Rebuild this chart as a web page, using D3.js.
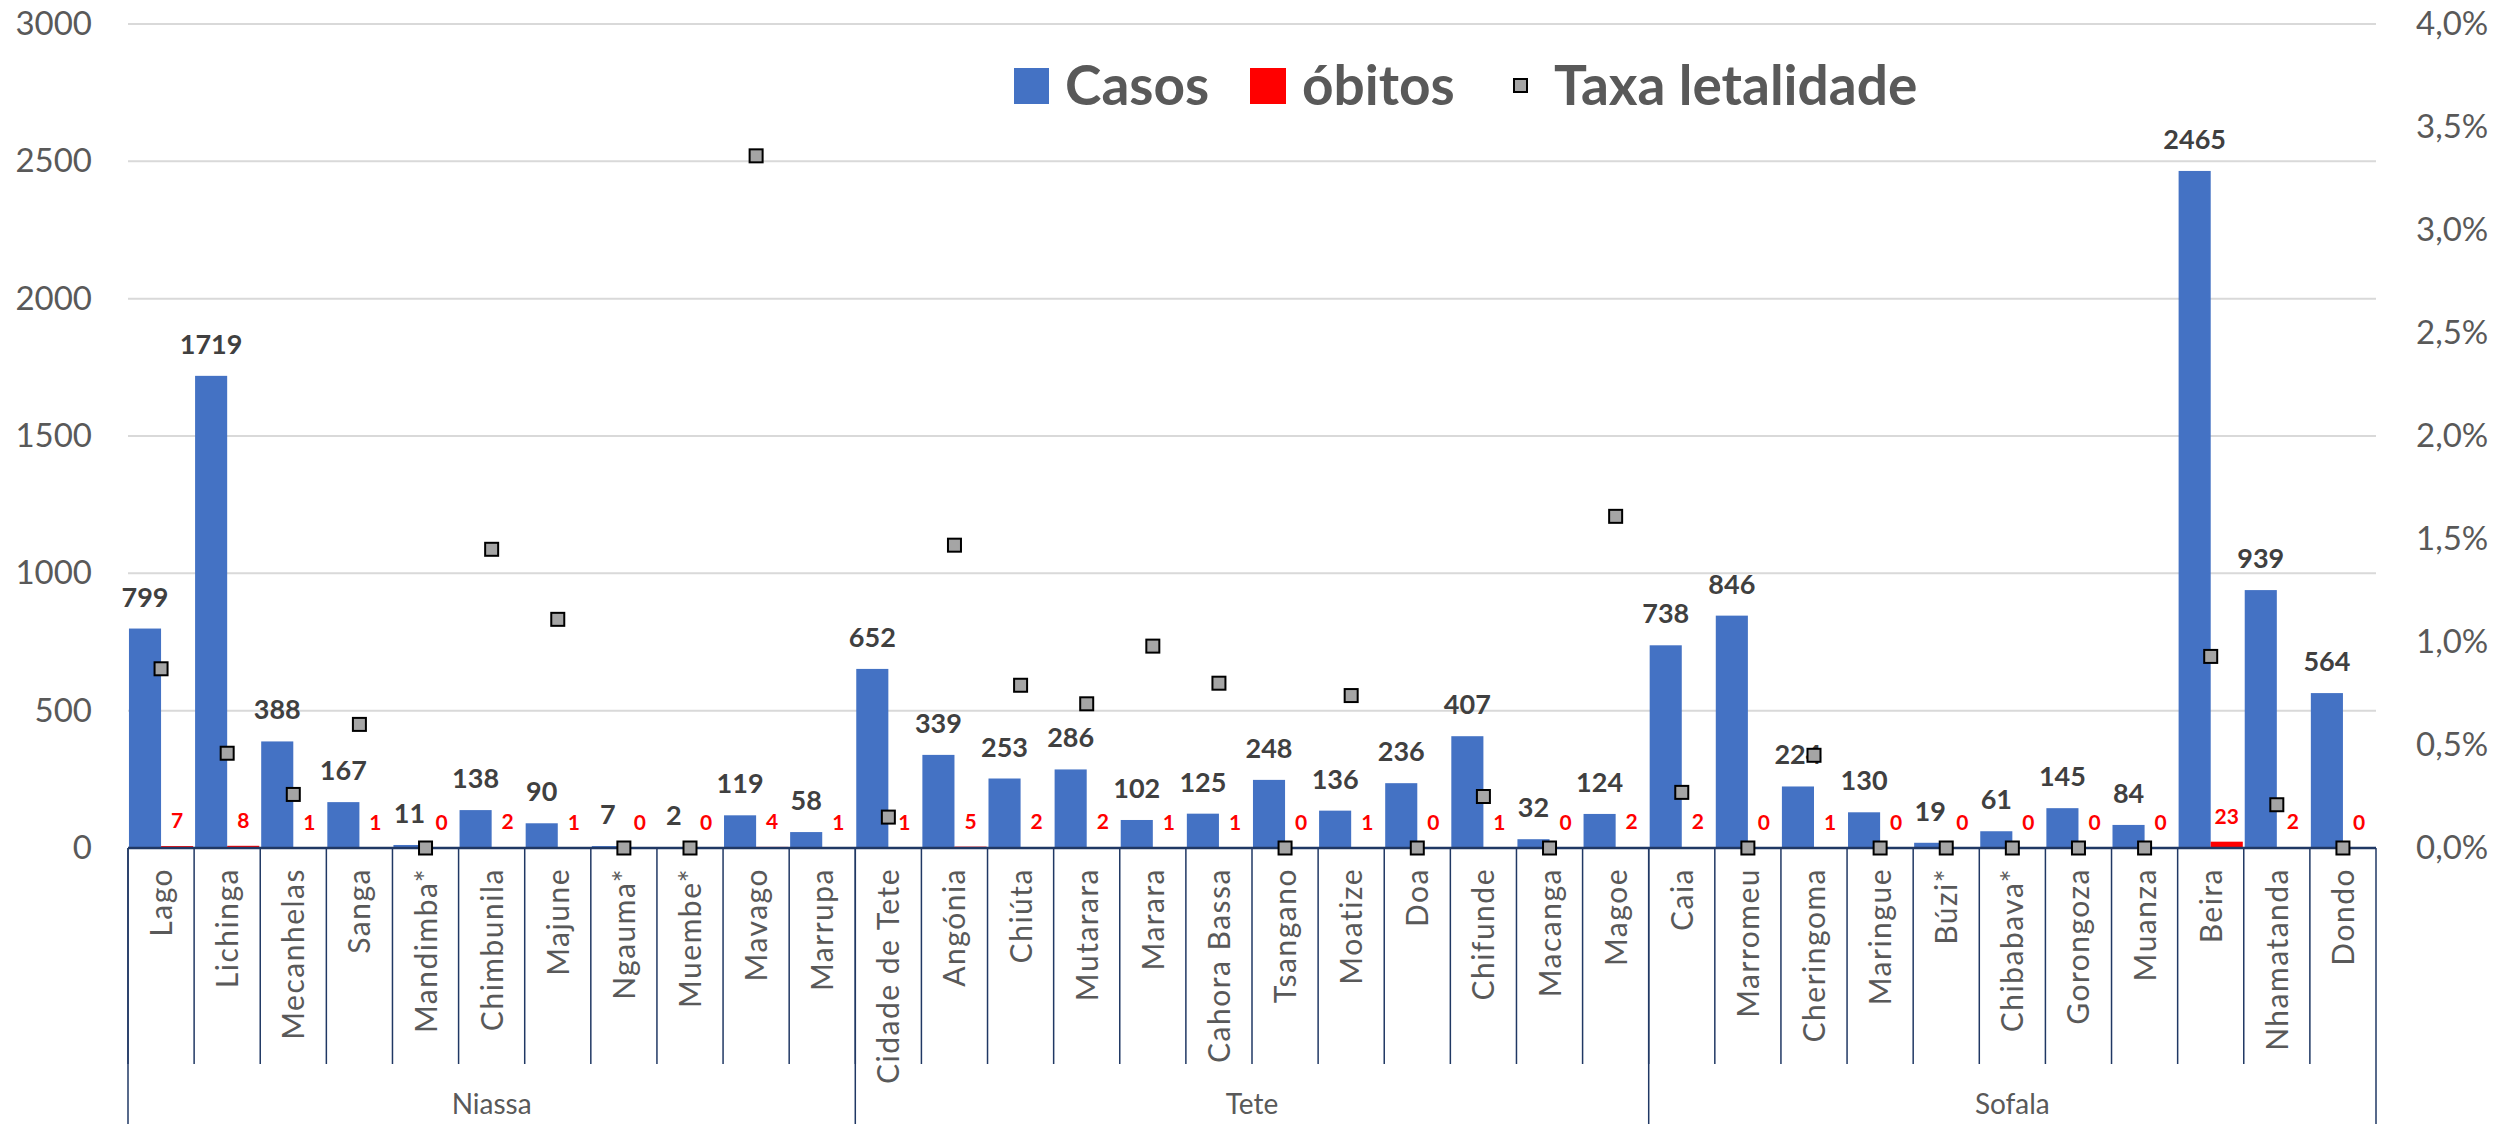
<!DOCTYPE html>
<html>
<head>
<meta charset="utf-8">
<script src="https://cdn.jsdelivr.net/npm/d3@7"></script>
<style>
  body { margin: 0; background: #fff; }
  svg { display: block; }
</style>
</head>
<body>
<svg id="chart"></svg>
<script>
// district names, grouped by province
var districts = ["Lago", "Lichinga", "Mecanhelas", "Sanga", "Mandimba*", "Chimbunila", "Majune", "Ngauma*", "Muembe*", "Mavago", "Marrupa",
  "Cidade de Tete", "Angónia", "Chiúta", "Mutarara", "Marara", "Cahora Bassa", "Tsangano", "Moatize", "Doa", "Chifunde", "Macanga", "Magoe",
  "Caia", "Marromeu", "Cheringoma", "Maringue", "Búzi*", "Chibabava*", "Gorongoza", "Muanza", "Beira", "Nhamatanda", "Dondo"];
var provinces = ["Niassa", "Tete", "Sofala"];
var provinceSizes = [11, 12, 11];

var casos = [799, 1719, 388, 167, 11, 138, 90, 7, 2, 119, 58,
  652, 339, 253, 286, 102, 125, 248, 136, 236, 407, 32, 124,
  738, 846, 224, 130, 19, 61, 145, 84, 2465, 939, 564];
var obitos = [7, 8, 1, 1, 0, 2, 1, 0, 0, 4, 1,
  1, 5, 2, 2, 1, 1, 0, 1, 0, 1, 0, 2,
  2, 0, 1, 0, 0, 0, 0, 0, 23, 2, 0];
// taxa letalidade in %, Marrupa has no marker in the original
var taxa = [0.87, 0.46, 0.26, 0.60, 0, 1.45, 1.11, 0, 0, 3.36, null,
  0.15, 1.47, 0.79, 0.70, 0.98, 0.80, 0, 0.74, 0, 0.25, 0, 1.61,
  0.27, 0, 0.45, 0, 0, 0, 0, 0, 0.93, 0.21, 0];

var leftTicks = [0, 500, 1000, 1500, 2000, 2500, 3000];
var rightTicks = [0, 0.5, 1, 1.5, 2, 2.5, 3, 3.5, 4];

var width = 2509, height = 1124;
var plotLeft = 128, plotRight = 2376, plotTop = 24, plotBottom = 848;

var svg = d3.select("#chart").attr("width", width).attr("height", height);

var x = d3.scaleBand().domain(districts).range([plotLeft, plotRight]).paddingInner(0).paddingOuter(0);
var x1 = d3.scaleBand().domain(["casos", "obitos"]).range([0, x.bandwidth()]).paddingOuter(0.03).paddingInner(0);
var y = d3.scaleLinear().domain([0, 3000]).range([plotBottom, plotTop]);
var y2 = d3.scaleLinear().domain([0, 4]).range([plotBottom, plotTop]);

var numFont = "Lato, 'Open Sans', sans-serif";
var catFont = "Lato, 'Open Sans', sans-serif";

// gridlines
svg.append("g").attr("class", "grid")
  .selectAll("line")
  .data(leftTicks.filter(function (d) { return d > 0; }))
  .enter()
  .append("line")
  .attr("x1", plotLeft).attr("x2", plotRight)
  .attr("y1", function (d) { return y(d); })
  .attr("y2", function (d) { return y(d); })
  .attr("stroke", "#d9d9d9")
  .attr("stroke-width", 2);

// left axis labels
var yAxis = d3.axisLeft(y).tickValues(leftTicks).tickSize(0).tickPadding(36).tickFormat(d3.format("d"));
svg.append("g").attr("transform", "translate(" + plotLeft + ",0)").call(yAxis)
  .call(function (g) { g.select(".domain").remove(); })
  .selectAll("text")
  .style("font-family", numFont).style("font-size", "33px").attr("fill", "#595959");

// right axis labels
var yAxis2 = d3.axisRight(y2).tickValues(rightTicks).tickSize(0).tickPadding(40)
  .tickFormat(function (d) { return d3.format(".1f")(d).replace(".", ",") + "%"; });
svg.append("g").attr("transform", "translate(" + plotRight + ",0)").call(yAxis2)
  .call(function (g) { g.select(".domain").remove(); })
  .selectAll("text")
  .style("font-family", numFont).style("font-size", "33px").attr("fill", "#595959");

// bars
var bars = svg.append("g").attr("class", "bars");
bars.selectAll("rect.casos")
  .data(districts)
  .enter()
  .append("rect")
  .attr("class", "casos")
  .attr("x", function (d) { return x(d) + x1("casos"); })
  .attr("width", x1.bandwidth())
  .attr("y", function (d, i) { return y(casos[i]); })
  .attr("height", function (d, i) { return plotBottom - y(casos[i]); })
  .attr("fill", "#4472c4");

bars.selectAll("rect.obitos")
  .data(districts)
  .enter()
  .append("rect")
  .attr("class", "obitos")
  .attr("x", function (d) { return x(d) + x1("obitos"); })
  .attr("width", x1.bandwidth())
  .attr("y", function (d, i) { return y(obitos[i]); })
  .attr("height", function (d, i) { return plotBottom - y(obitos[i]); })
  .attr("fill", "#ff0000");

// category axis line and ticks
var axisColor = "#203864";
svg.append("line")
  .attr("x1", plotLeft).attr("x2", plotRight).attr("y1", plotBottom).attr("y2", plotBottom)
  .attr("stroke", axisColor).attr("stroke-width", 2.5);

var tickX = districts.map(function (d) { return x(d); });
svg.append("g").attr("class", "cat-ticks")
  .selectAll("line")
  .data(tickX)
  .enter()
  .append("line")
  .attr("x1", function (d) { return d; }).attr("x2", function (d) { return d; })
  .attr("y1", plotBottom).attr("y2", 1064)
  .attr("stroke", axisColor).attr("stroke-width", 1.5);

// province separators
var starts = [0];
provinceSizes.forEach(function (n, i) { starts.push(starts[i] + n); });
function edgeX(k) { return k < districts.length ? x(districts[k]) : plotRight; }

svg.append("g").attr("class", "prov-lines")
  .selectAll("line")
  .data(starts)
  .enter()
  .append("line")
  .attr("x1", edgeX)
  .attr("x2", edgeX)
  .attr("y1", plotBottom).attr("y2", height)
  .attr("stroke", axisColor).attr("stroke-width", 1.5);

svg.append("g").attr("class", "prov-labels")
  .selectAll("text")
  .data(provinces)
  .enter()
  .append("text")
  .attr("x", function (d, i) { return (edgeX(starts[i]) + edgeX(starts[i + 1])) / 2; })
  .attr("y", 1114)
  .attr("text-anchor", "middle")
  .style("font-family", numFont).style("font-size", "28px").attr("fill", "#595959")
  .text(function (d) { return d; });

// category labels, rotated
svg.append("g").attr("class", "cat-labels")
  .selectAll("text")
  .data(districts)
  .enter()
  .append("text")
  .attr("transform", function (d) {
    return "translate(" + (x(d) + x.bandwidth() / 2 + 11) + "," + (plotBottom + 20) + ") rotate(-90)";
  })
  .attr("text-anchor", "end")
  .style("font-family", catFont).style("font-size", "30px").style("letter-spacing", "1.5px")
  .attr("fill", "#595959")
  .text(function (d) { return d; });

// data labels
svg.append("g").attr("class", "casos-labels")
  .selectAll("text")
  .data(districts)
  .enter()
  .append("text")
  .attr("x", function (d) { return x(d) + x1("casos") + x1.bandwidth() / 2; })
  .attr("y", function (d, i) { return y(casos[i]) - 22; })
  .attr("text-anchor", "middle")
  .style("font-family", numFont).style("font-size", "27px").style("font-weight", "bold")
  .attr("fill", "#404040")
  .text(function (d, i) { return casos[i]; });

svg.append("g").attr("class", "obitos-labels")
  .selectAll("text")
  .data(districts)
  .enter()
  .append("text")
  .attr("x", function (d) { return x(d) + x1("obitos") + x1.bandwidth() / 2; })
  .attr("y", function (d, i) { return y(obitos[i]) - 18; })
  .attr("text-anchor", "middle")
  .style("font-family", numFont).style("font-size", "21px").style("font-weight", "bold")
  .attr("fill", "#ff0000")
  .text(function (d, i) { return obitos[i]; });

// taxa letalidade markers
var ms = 13;
svg.append("g").attr("class", "markers")
  .selectAll("rect")
  .data(districts.filter(function (d, i) { return taxa[i] !== null; }))
  .enter()
  .append("rect")
  .attr("x", function (d) { return x(d) + x.bandwidth() / 2 - ms / 2; })
  .attr("y", function (d) { return y2(taxa[districts.indexOf(d)]) - ms / 2; })
  .attr("width", ms).attr("height", ms)
  .attr("fill", "#a5a5a5")
  .attr("stroke", "#000").attr("stroke-width", 2);

// legend
var legend = svg.append("g").attr("class", "legend");
legend.append("rect").attr("x", 1014).attr("y", 68).attr("width", 35).attr("height", 36).attr("fill", "#4472c4");
legend.append("text").attr("x", 1065).attr("y", 105).text("Casos");
legend.append("rect").attr("x", 1250).attr("y", 68).attr("width", 36).attr("height", 36).attr("fill", "#ff0000");
legend.append("text").attr("x", 1302).attr("y", 105).text("óbitos");
legend.append("rect").attr("x", 1514).attr("y", 79).attr("width", 13).attr("height", 13)
  .attr("fill", "#a5a5a5").attr("stroke", "#000").attr("stroke-width", 2);
legend.append("text").attr("x", 1554).attr("y", 105).text("Taxa letalidade");
legend.selectAll("text")
  .style("font-family", numFont).style("font-size", "55px").style("font-weight", "bold")
  .attr("fill", "#595959");
</script>
</body>
</html>
